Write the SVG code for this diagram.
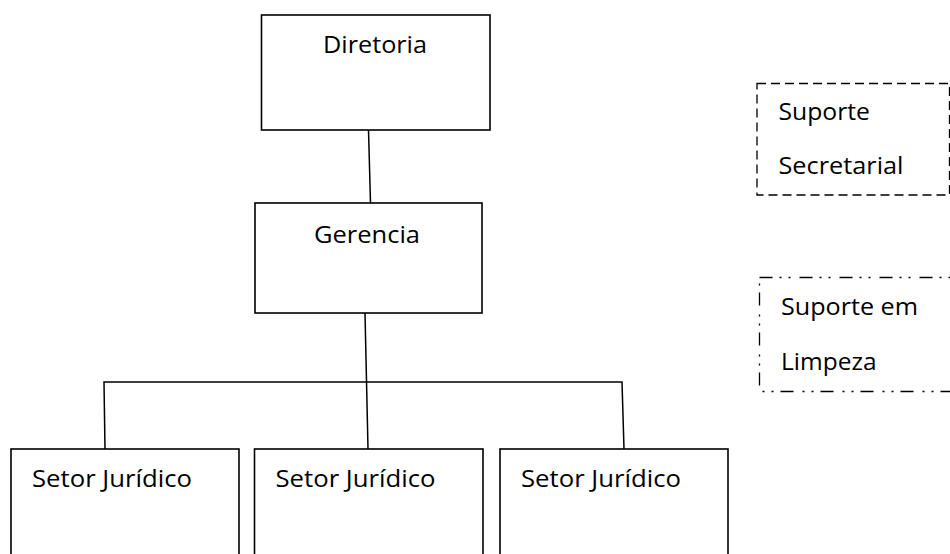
<svg xmlns="http://www.w3.org/2000/svg" width="950" height="554" viewBox="0 0 950 554">
<style>
.box{fill:#fff;stroke:#000;stroke-width:1.6}
.dash{fill:#fff;stroke:#000;stroke-width:1.3;stroke-dasharray:9 5}
.dashdot{fill:#fff;stroke:#000;stroke-width:1.3;stroke-dasharray:13 7 2 7 2 9}
.conn{fill:none;stroke:#000;stroke-width:1.5}
text{font-family:"Open Sans","Noto Sans",sans-serif;font-size:24px;fill:#000}
</style>
<rect width="950" height="554" fill="#fff"/>
<g id="connectors">
<line class="conn" x1="368.5" y1="130" x2="370.5" y2="203"/>
<line class="conn" x1="365" y1="313" x2="368" y2="449"/>
<polyline class="conn" points="105,449 104,382 622,382 624,449"/>
</g>
<g id="diretoria">
<rect class="box" x="261.5" y="15" width="228.5" height="115"/>
<text x="323" y="53" textLength="104" lengthAdjust="spacingAndGlyphs">Diretoria</text>
</g>
<g id="gerencia">
<rect class="box" x="255" y="203" width="227" height="110"/>
<text x="314" y="242.5" textLength="106" lengthAdjust="spacingAndGlyphs">Gerencia</text>
</g>
<g id="setor1">
<rect class="box" x="11" y="449" width="228" height="120"/>
<text x="32" y="487" textLength="160" lengthAdjust="spacingAndGlyphs">Setor Jurídico</text>
</g>
<g id="setor2">
<rect class="box" x="254.5" y="449" width="228.5" height="120"/>
<text x="275.5" y="487" textLength="160" lengthAdjust="spacingAndGlyphs">Setor Jurídico</text>
</g>
<g id="setor3">
<rect class="box" x="500" y="449" width="228" height="120"/>
<text x="521" y="487" textLength="160" lengthAdjust="spacingAndGlyphs">Setor Jurídico</text>
</g>
<g id="suporte-secretarial">
<rect class="dash" x="757" y="83.5" width="192.5" height="111.5"/>
<text x="778.5" y="119.5" textLength="91.5" lengthAdjust="spacingAndGlyphs">Suporte</text>
<text x="778.5" y="173.5" textLength="125" lengthAdjust="spacingAndGlyphs">Secretarial</text>
</g>
<g id="suporte-limpeza">
<rect class="dashdot" x="759.5" y="277.5" width="200" height="114"/>
<text x="781" y="315" textLength="137" lengthAdjust="spacingAndGlyphs">Suporte em</text>
<text x="781" y="370" textLength="95.5" lengthAdjust="spacingAndGlyphs">Limpeza</text>
</g>
</svg>
